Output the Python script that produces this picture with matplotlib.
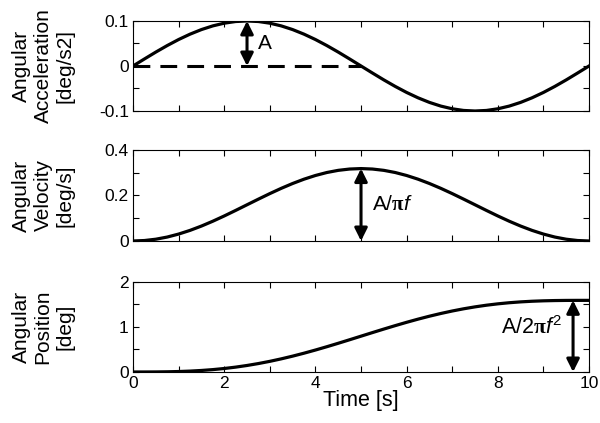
import numpy as np
import matplotlib.pyplot as plt

plt.rcParams['font.family'] = ['Liberation Sans', 'DejaVu Sans']
plt.rcParams['mathtext.fontset'] = 'custom'
plt.rcParams['mathtext.rm'] = 'Liberation Sans'
plt.rcParams['mathtext.it'] = 'Liberation Sans:italic'
plt.rcParams['mathtext.bf'] = 'Liberation Serif:bold'

# time samples (s), 0.25 s steps
time_s = [0.25 * k for k in range(41)]

# angular acceleration [deg/s^2]
accel = [0.0, 0.0156, 0.0309, 0.0454, 0.0588, 0.0707, 0.0809, 0.0891, 0.0951, 0.0988,
         0.1, 0.0988, 0.0951, 0.0891, 0.0809, 0.0707, 0.0588, 0.0454, 0.0309, 0.0156,
         0.0, -0.0156, -0.0309, -0.0454, -0.0588, -0.0707, -0.0809, -0.0891, -0.0951, -0.0988,
         -0.1, -0.0988, -0.0951, -0.0891, -0.0809, -0.0707, -0.0588, -0.0454, -0.0309, -0.0156, 0.0]

# angular velocity [deg/s]
veloc = [0.0, 0.0020, 0.0078, 0.0173, 0.0304, 0.0466, 0.0656, 0.0869, 0.1100, 0.1343,
         0.1592, 0.1840, 0.2083, 0.2314, 0.2527, 0.2717, 0.2879, 0.3010, 0.3105, 0.3163,
         0.3183, 0.3163, 0.3105, 0.3010, 0.2879, 0.2717, 0.2527, 0.2314, 0.2083, 0.1840,
         0.1592, 0.1343, 0.1100, 0.0869, 0.0656, 0.0466, 0.0304, 0.0173, 0.0078, 0.0020, 0.0]

# angular position [deg]
posit = [0.0, 0.0002, 0.0013, 0.0044, 0.0103, 0.0198, 0.0338, 0.0528, 0.0774, 0.1079,
         0.1446, 0.1875, 0.2365, 0.2916, 0.3521, 0.4177, 0.4877, 0.5614, 0.6379, 0.7163,
         0.7958, 0.8752, 0.9536, 1.0301, 1.1038, 1.1738, 1.2394, 1.2999, 1.3550, 1.4040,
         1.4469, 1.4836, 1.5141, 1.5387, 1.5577, 1.5717, 1.5812, 1.5871, 1.5902, 1.5913, 1.5915]

peak_accel = 0.1
peak_veloc = 0.3183
peak_posit = 1.5915

fig = plt.figure(figsize=(6, 4.23), dpi=100)
left, width = 0.2217, 0.76
ax1 = fig.add_axes([left, 0.7376, width, 0.2128])
ax2 = fig.add_axes([left, 0.4303, width, 0.2151])
ax3 = fig.add_axes([left, 0.1206, width, 0.2128])

lw = 2.3
ax1.plot(time_s, accel, color='k', lw=lw)
ax1.plot([0, 5], [0, 0], color='k', lw=2.2, dashes=(5.5, 3.3))
ax2.plot(time_s, veloc, color='k', lw=lw)
ax3.plot(time_s, posit, color='k', lw=lw)

# double headed arrows marking the amplitudes
arrow = dict(arrowstyle='<|-|>', color='k', lw=2.2, mutation_scale=19,
             shrinkA=0, shrinkB=0)
ax1.annotate('', xy=(2.5, peak_accel), xytext=(2.5, 0), arrowprops=arrow)
ax2.annotate('', xy=(5, peak_veloc), xytext=(5, 0), arrowprops=arrow)
ax3.annotate('', xy=(9.65, peak_posit), xytext=(9.65, 0), arrowprops=arrow)

ax1.text(2.75, 0.05, 'A', fontsize=15, ha='left', va='center')
ax2.text(5.25, 0.16, r'A/$\mathbf{\pi}\mathit{f}$', fontsize=15, ha='left', va='center')
ax3.text(9.42, 0.98, r'A/2$\mathbf{\pi}\mathit{f}^2$', fontsize=15.5, ha='right', va='center')

ylims = [(-0.1, 0.1), (0, 0.4), (0, 2)]
yticks = [[-0.1, -0.05, 0, 0.05, 0.1], [0, 0.1, 0.2, 0.3, 0.4], [0, 0.5, 1, 1.5, 2]]
yticklabels = [['-0.1', '', '0', '', '0.1'], ['0', '', '0.2', '', '0.4'], ['0', '', '1', '', '2']]
ylabels = ['Angular\nAcceleration\n[deg/s2]', 'Angular\nVelocity\n[deg/s]', 'Angular\nPosition\n[deg]']
xticks = list(range(11))
xticklabels = [str(v) if v % 2 == 0 else '' for v in xticks]

for ax, yl, yt, ytl, lab in zip([ax1, ax2, ax3], ylims, yticks, yticklabels, ylabels):
    ax.set_xlim(0, 10)
    ax.set_ylim(*yl)
    ax.set_yticks(yt)
    ax.set_yticklabels(ytl)
    ax.set_xticks(xticks)
    ax.tick_params(direction='in', length=4, width=0.8, top=True, right=True,
                   labelsize=12.5, pad=3, colors='k')
    for sp in ax.spines.values():
        sp.set_linewidth(0.8)
    ax.set_ylabel(lab, fontsize=15, linespacing=1.2, va='center', ha='center')
    ax.yaxis.set_label_coords(-0.197, 0.5)

ax1.set_xticklabels([])
ax2.set_xticklabels([])
ax3.set_xticklabels(xticklabels)
ax3.set_xlabel('Time [s]', fontsize=15.5, labelpad=-1)

fig.savefig('out.png', dpi=100)
